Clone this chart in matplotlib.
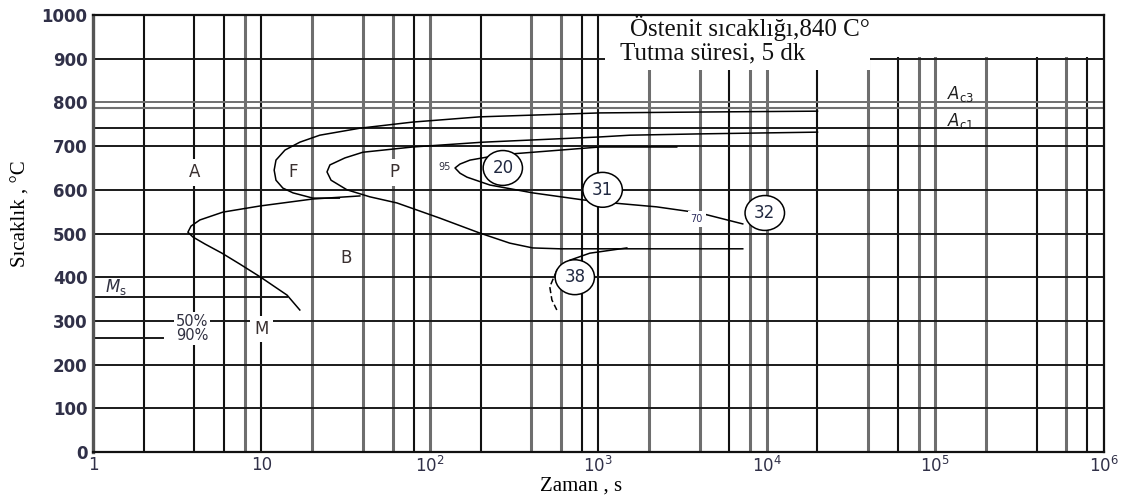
import matplotlib
matplotlib.use("Agg")
import matplotlib.pyplot as plt
from matplotlib.patches import Rectangle

# vertical grid positions (time, s) and whether the scan shows them dark or grey
vlines_dark = [2, 4, 6, 10, 80, 200, 800, 1000, 6000, 20000, 60000, 400000, 800000]
vlines_grey = [8, 20, 40, 60, 100, 400, 600, 2000, 4000, 8000, 10000, 40000, 80000,
               100000, 200000, 600000]
hlines = [0, 100, 200, 300, 400, 500, 600, 700, 800, 900, 1000]
ac3 = 788
ac1 = 742
ms_temp = 355
m90_temp = 261

# curves (time s, temperature C)
b_time = [16.9, 14.2, 9.9, 7.45, 5.83, 4.62, 3.92, 3.66, 3.82, 4.31, 5.91, 9.8, 20.2, 38.4]
b_temp = [325, 359, 400, 430, 455, 476, 492, 503, 517, 531, 549, 563, 579, 586]

f_time = [20000, 4000, 1020, 198, 79, 38.4, 22.2, 16.9, 13.8, 12.2, 11.9, 12.2, 13.4, 15.4, 20.2, 29]
f_temp = [780, 778, 776, 767, 755, 741, 725, 709, 691, 668, 645, 622, 604, 593, 581, 581]

p_time = [20000, 4000, 1540, 1020, 206, 79, 40, 31.3, 25.5, 24.5, 25.9, 32.2, 44, 63.7,
          115, 198, 298, 408, 591, 7200]
p_temp = [732, 728, 725, 721, 709, 698, 686, 673, 657, 641, 622, 600, 584, 570,
          535, 501, 478, 467, 465, 465]

c95_time = [2920, 1020, 260, 173, 151, 141, 151, 166, 227, 408, 809, 1060, 2220, 4000, 7200]
c95_temp = [698, 698, 680, 668, 659, 650, 638, 629, 611, 593, 577, 572, 561, 547, 522]

c38_time = [1476, 890, 678, 567, 515, 530, 567]
c38_temp = [467, 455, 439, 416, 378, 348, 325]

# labels
phase_labels = ["A", "F", "P", "B", "M"]
phase_pos = [(4, 640), (15.4, 640), (62, 640), (32, 444), (10, 282)]
circle_labels = ["20", "31", "32", "38"]
circle_pos = [(271, 650), (1060, 600), (9730, 547), (725, 400)]

xtick_vals = [1, 10, 100, 1000, 10000, 100000, 1000000]
xtick_labels = ["1", "10", "10$^2$", "10$^3$", "10$^4$", "10$^5$", "10$^6$"]

fig = plt.figure(figsize=(11.23, 4.96), dpi=100)
ax = fig.add_axes([0.0828, 0.0887, 0.900, 0.881])
ax.set_xscale("log")
ax.set_xlim(1, 1e6)
ax.set_ylim(0, 1000)

for v in vlines_dark:
    ax.axvline(v, color="#111111", lw=1.5, zorder=1)
for v in vlines_grey:
    ax.axvline(v, color="#6e6e6e", lw=2.2, zorder=1)
for h in hlines:
    c = "#707070" if h == 800 else "#1a1a1a"
    ax.axhline(h, color=c, lw=1.4, zorder=1)
ax.axhline(ac3, color="#707070", lw=1.5, zorder=1)
ax.axhline(ac1, color="#1a1a1a", lw=1.4, zorder=1)
ax.plot([1, 14.2], [ms_temp, ms_temp], color="#1a1a1a", lw=1.4, zorder=1)
ax.plot([1, 2.6], [m90_temp, m90_temp], color="#1a1a1a", lw=1.4, zorder=1)

# white block behind the heading
ax.add_patch(Rectangle((1100, 905), 1e6 - 1100, 100, fc="white", ec="none", zorder=2))
ax.add_patch(Rectangle((1100, 874), 41000 - 1100, 130, fc="white", ec="none", zorder=2))

lk = dict(color="black", lw=1.1, zorder=3)
ax.plot(b_time, b_temp, **lk)
ax.plot(f_time, f_temp, **lk)
ax.plot(p_time, p_temp, **lk)
ax.plot(c95_time, c95_temp, **lk)
ax.plot(c38_time[:4], c38_temp[:4], **lk)
ax.plot(c38_time[3:], c38_temp[3:], color="black", lw=1.1, ls=(0, (4, 2)), zorder=3)

white = dict(boxstyle="square,pad=0.25", fc="white", ec="none")
for lab, (x, y) in zip(phase_labels, phase_pos):
    ax.text(x, y, lab, ha="center", va="center", fontsize=12, color="#3a3030",
            bbox=white, zorder=4)
ax.text(3.87, 299, "50%", ha="center", va="center", fontsize=10.5, color="#303040",
        bbox=dict(boxstyle="square,pad=0.1", fc="white", ec="none"), zorder=4)
ax.text(3.87, 266, "90%", ha="center", va="center", fontsize=10.5, color="#303040",
        bbox=dict(boxstyle="square,pad=0.1", fc="white", ec="none"), zorder=4)
ax.text(123, 652, "95", ha="center", va="center", fontsize=7, color="#303040", zorder=4)
ax.text(3840, 533, "70", ha="center", va="center", fontsize=7, color="#303060",
        bbox=dict(boxstyle="square,pad=0.3", fc="white", ec="none"), zorder=4)

for lab, (x, y) in zip(circle_labels, circle_pos):
    ax.text(x, y, lab, ha="center", va="center", fontsize=12, color="#202840",
            bbox=dict(boxstyle="ellipse,pad=0.2", fc="white", ec="black", lw=1.1), zorder=5)

ax.text(1.18, 378, r"$M_{\mathrm{s}}$", ha="left", va="center", fontsize=12, color="#303040", zorder=4)
ax.text(118000, 820, r"$A_{\mathrm{c3}}$", ha="left", va="center", fontsize=12, color="#202020", zorder=4)
ax.text(118000, 758, r"$A_{\mathrm{c1}}$", ha="left", va="center", fontsize=12, color="#202020", zorder=4)

ax.text(1550, 970, "Östenit sıcaklığı,840 C°", ha="left", va="center", fontsize=18,
        family="Liberation Serif", color="#111111", zorder=4)
ax.text(1350, 912, "Tutma süresi, 5 dk", ha="left", va="center", fontsize=18,
        family="Liberation Serif", color="#111111", zorder=4)

ax.set_xticks(xtick_vals)
ax.set_xticklabels(xtick_labels)
ax.minorticks_off()
ax.set_yticks(hlines)
ax.tick_params(length=0, labelsize=12, labelcolor="#303048")
ax.tick_params(axis="y", pad=4)
ax.tick_params(axis="x", pad=3)
for t in ax.get_yticklabels():
    t.set_fontweight("bold")

ax.set_xlabel("Zaman , s", fontsize=15, family="Liberation Serif", va="center")
ax.xaxis.set_label_coords(0.483, -0.078)
ax.set_ylabel("Sıcaklık , °C", fontsize=15, family="Liberation Serif")
ax.yaxis.set_label_coords(-0.062, 0.545)

for s in ax.spines.values():
    s.set_color("#111111")
    s.set_linewidth(1.6)
    s.set_zorder(6)
ax.spines["left"].set_color("#555555")
ax.spines["left"].set_linewidth(2.4)

fig.savefig("out.png", dpi=100)
